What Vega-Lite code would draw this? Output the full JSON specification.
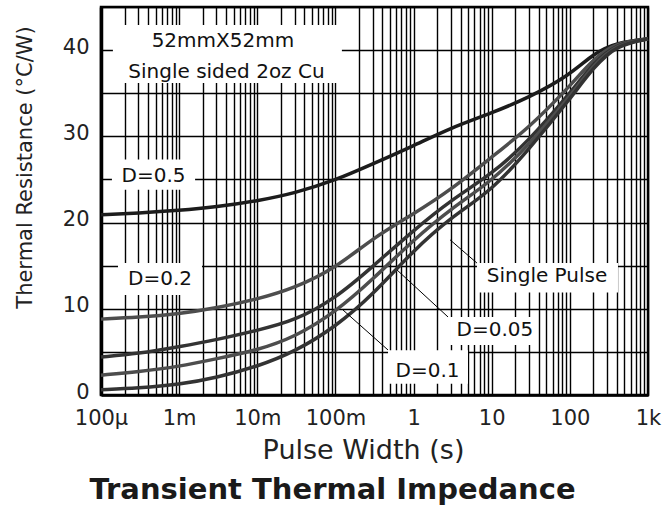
{
  "$schema": "https://vega.github.io/schema/vega-lite/v6.json",
  "width": 547,
  "height": 388,
  "autosize": "none",
  "padding": {"left": 101, "top": 7, "right": 14, "bottom": 117},
  "background": "white",
  "config": {
    "font": "DejaVu Sans",
    "view": {"stroke": "black", "strokeWidth": 2.5}
  },
  "title": {
    "text": "Transient Thermal Impedance",
    "orient": "bottom",
    "fontSize": 29,
    "fontWeight": "bold",
    "color": "#1a1a1a",
    "font": "DejaVu Sans",
    "anchor": "middle",
    "offset": 13,
    "dx": -42
  },
  "datasets": {
    "curves": [
      {"s": "D=0.5", "x": 0.0001, "y": 20.9}, {"s": "D=0.5", "x": 0.0003, "y": 21.1}, {"s": "D=0.5", "x": 0.001, "y": 21.4}, {"s": "D=0.5", "x": 0.003, "y": 21.8}, {"s": "D=0.5", "x": 0.01, "y": 22.5}, {"s": "D=0.5", "x": 0.03, "y": 23.4}, {"s": "D=0.5", "x": 0.1, "y": 24.9}, {"s": "D=0.5", "x": 0.3, "y": 26.8}, {"s": "D=0.5", "x": 1, "y": 28.9}, {"s": "D=0.5", "x": 3, "y": 31.0}, {"s": "D=0.5", "x": 10, "y": 32.7}, {"s": "D=0.5", "x": 30, "y": 34.5}, {"s": "D=0.5", "x": 100, "y": 37.1}, {"s": "D=0.5", "x": 200, "y": 39.6}, {"s": "D=0.5", "x": 400, "y": 40.9}, {"s": "D=0.5", "x": 1000, "y": 41.3},
      {"s": "D=0.2", "x": 0.0001, "y": 8.8}, {"s": "D=0.2", "x": 0.0003, "y": 9.0}, {"s": "D=0.2", "x": 0.001, "y": 9.4}, {"s": "D=0.2", "x": 0.003, "y": 10.1}, {"s": "D=0.2", "x": 0.01, "y": 11.1}, {"s": "D=0.2", "x": 0.03, "y": 12.4}, {"s": "D=0.2", "x": 0.1, "y": 14.7}, {"s": "D=0.2", "x": 0.3, "y": 18.2}, {"s": "D=0.2", "x": 1, "y": 21.0}, {"s": "D=0.2", "x": 3, "y": 23.8}, {"s": "D=0.2", "x": 10, "y": 27.6}, {"s": "D=0.2", "x": 30, "y": 31.0}, {"s": "D=0.2", "x": 100, "y": 35.8}, {"s": "D=0.2", "x": 200, "y": 39.0}, {"s": "D=0.2", "x": 400, "y": 40.9}, {"s": "D=0.2", "x": 1000, "y": 41.3},
      {"s": "D=0.1", "x": 0.0001, "y": 4.4}, {"s": "D=0.1", "x": 0.0003, "y": 4.8}, {"s": "D=0.1", "x": 0.001, "y": 5.6}, {"s": "D=0.1", "x": 0.003, "y": 6.4}, {"s": "D=0.1", "x": 0.01, "y": 7.5}, {"s": "D=0.1", "x": 0.03, "y": 8.6}, {"s": "D=0.1", "x": 0.1, "y": 11.2}, {"s": "D=0.1", "x": 0.3, "y": 14.9}, {"s": "D=0.1", "x": 1, "y": 19.1}, {"s": "D=0.1", "x": 3, "y": 22.6}, {"s": "D=0.1", "x": 10, "y": 25.6}, {"s": "D=0.1", "x": 30, "y": 29.5}, {"s": "D=0.1", "x": 100, "y": 35.0}, {"s": "D=0.1", "x": 200, "y": 38.5}, {"s": "D=0.1", "x": 400, "y": 40.8}, {"s": "D=0.1", "x": 1000, "y": 41.3},
      {"s": "D=0.05", "x": 0.0001, "y": 2.3}, {"s": "D=0.05", "x": 0.0003, "y": 2.7}, {"s": "D=0.05", "x": 0.001, "y": 3.3}, {"s": "D=0.05", "x": 0.003, "y": 4.2}, {"s": "D=0.05", "x": 0.01, "y": 5.2}, {"s": "D=0.05", "x": 0.03, "y": 6.7}, {"s": "D=0.05", "x": 0.1, "y": 9.6}, {"s": "D=0.05", "x": 0.3, "y": 13.4}, {"s": "D=0.05", "x": 1, "y": 18.0}, {"s": "D=0.05", "x": 3, "y": 21.6}, {"s": "D=0.05", "x": 10, "y": 24.8}, {"s": "D=0.05", "x": 30, "y": 29.0}, {"s": "D=0.05", "x": 100, "y": 34.6}, {"s": "D=0.05", "x": 200, "y": 38.3}, {"s": "D=0.05", "x": 400, "y": 40.7}, {"s": "D=0.05", "x": 1000, "y": 41.3},
      {"s": "Single", "x": 0.0001, "y": 0.6}, {"s": "Single", "x": 0.0003, "y": 0.8}, {"s": "Single", "x": 0.001, "y": 1.2}, {"s": "Single", "x": 0.003, "y": 2.0}, {"s": "Single", "x": 0.01, "y": 3.3}, {"s": "Single", "x": 0.03, "y": 5.0}, {"s": "Single", "x": 0.1, "y": 7.9}, {"s": "Single", "x": 0.3, "y": 11.6}, {"s": "Single", "x": 1, "y": 16.8}, {"s": "Single", "x": 3, "y": 20.6}, {"s": "Single", "x": 10, "y": 23.7}, {"s": "Single", "x": 30, "y": 28.5}, {"s": "Single", "x": 100, "y": 34.3}, {"s": "Single", "x": 200, "y": 38.0}, {"s": "Single", "x": 400, "y": 40.6}, {"s": "Single", "x": 1000, "y": 41.3}
    ],
    "boxes": [
      {"x": 0.000142, "x2": 0.121, "y": 36.2, "y2": 42.9},
      {"x": 0.000138, "x2": 0.0016, "y": 23.8, "y2": 27.3},
      {"x": 0.000165, "x2": 0.00196, "y": 11.6, "y2": 15.3},
      {"x": 6.48, "x2": 413, "y": 11.9, "y2": 15.3},
      {"x": 2.93, "x2": 35.8, "y": 5.8, "y2": 9.05},
      {"x": 0.471, "x2": 4.97, "y": 1.3, "y2": 5.2}
    ],
    "leaders": [
      {"x": 2.93, "y": 18.0, "x2": 6.48, "y2": 15.3},
      {"x": 0.614, "y": 14.5, "x2": 2.76, "y2": 9.05},
      {"x": 0.125, "y": 9.86, "x2": 0.471, "y2": 5.22}
    ],
    "labels": [
      {"t": "52mmX52mm", "x": 0.00363, "y": 41.0},
      {"t": "Single sided 2oz Cu", "x": 0.00403, "y": 37.5},
      {"t": "D=0.5", "x": 0.00047, "y": 25.35},
      {"t": "D=0.2", "x": 0.000569, "y": 13.5},
      {"t": "Single Pulse", "x": 51, "y": 13.75},
      {"t": "D=0.05", "x": 11.0, "y": 7.54},
      {"t": "D=0.1", "x": 1.51, "y": 2.73}
    ]
  },
  "layer": [
    {
      "data": {"name": "boxes"},
      "mark": {"type": "rect", "fill": "white", "stroke": null},
      "encoding": {
        "x": {
          "field": "x", "type": "quantitative",
          "scale": {"type": "log", "domain": [0.0001, 1000], "nice": false},
          "axis": {
            "values": [0.0001,0.0002,0.0003,0.0004,0.0005,0.0006,0.0007,0.0008,0.0009,0.001,0.002,0.003,0.004,0.005,0.006,0.007,0.008,0.009,0.01,0.02,0.03,0.04,0.05,0.06,0.07,0.08,0.09,0.1,0.2,0.3,0.4,0.5,0.6,0.7,0.8,0.9,1,2,3,4,5,6,7,8,9,10,20,30,40,50,60,70,80,90,100,200,300,400,500,600,700,800,900,1000],
            "labelExpr": "datum.value==0.0001?'100μ':datum.value==0.001?'1m':datum.value==0.01?'10m':datum.value==0.1?'100m':datum.value==1?'1':datum.value==10?'10':datum.value==100?'100':datum.value==1000?'1k':''",
            "grid": true, "gridColor": "black", "gridWidth": 1.4, "gridOpacity": 1,
            "ticks": false,
            "domain": true, "domainColor": "black", "domainWidth": 2.5,
            "labelFontSize": 21, "labelColor": "#222", "labelPadding": 12,
            "labelOverlap": false, "labelFlush": false, "labelBound": false,
            "title": "Pulse Width (s)", "titleFontSize": 27, "titleFontWeight": "normal", "titleColor": "#222",
            "titleX": 262, "titleY": 63, "titleBaseline": "alphabetic"
          }
        },
        "x2": {"field": "x2"},
        "y": {
          "field": "y", "type": "quantitative",
          "scale": {"domain": [0, 45], "nice": false},
          "axis": {
            "values": [0,5,10,15,20,25,30,35,40,45],
            "labelExpr": "datum.value % 10 == 0 ? datum.label : ''",
            "grid": true, "gridColor": "black", "gridWidth": 1.4, "gridOpacity": 1,
            "ticks": false,
            "domain": true, "domainColor": "black", "domainWidth": 3.5,
            "labelFontSize": 21, "labelColor": "#222", "labelPadding": 12, "labelOffset": -3,
            "labelOverlap": false,
            "title": "Thermal Resistance (°C/W)", "titleFontSize": 21, "titleFontWeight": "normal", "titleColor": "#222",
            "titleX": -76, "titleY": 160, "titleAngle": -90, "titleBaseline": "middle", "titleAlign": "center"
          }
        },
        "y2": {"field": "y2"}
      }
    },
    {
      "data": {"name": "curves"},
      "mark": {"type": "line", "interpolate": "basis", "strokeWidth": 3.5, "strokeCap": "butt"},
      "encoding": {
        "x": {"field": "x", "type": "quantitative"},
        "y": {"field": "y", "type": "quantitative"},
        "detail": {"field": "s"},
        "color": {
          "field": "s", "type": "nominal",
          "scale": {"domain": ["D=0.5", "D=0.2", "D=0.1", "D=0.05", "Single"], "range": ["#1c1c1c", "#4d4d4d", "#333333", "#4d4d4d", "#333333"]},
          "legend": null
        }
      }
    },
    {
      "data": {"name": "leaders"},
      "mark": {"type": "rule", "color": "black", "strokeWidth": 1},
      "encoding": {
        "x": {"field": "x", "type": "quantitative"},
        "y": {"field": "y", "type": "quantitative"},
        "x2": {"field": "x2"},
        "y2": {"field": "y2"}
      }
    },
    {
      "data": {"name": "labels"},
      "mark": {"type": "text", "fontSize": 20, "color": "#111", "align": "center", "baseline": "middle", "font": "DejaVu Sans"},
      "encoding": {
        "x": {"field": "x", "type": "quantitative"},
        "y": {"field": "y", "type": "quantitative"},
        "text": {"field": "t"}
      }
    }
  ]
}
